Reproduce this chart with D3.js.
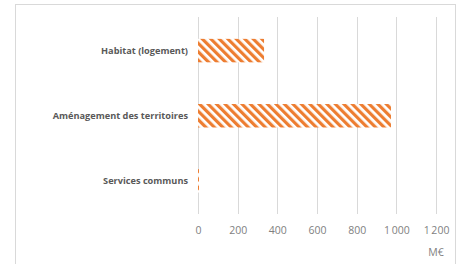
<!doctype html>
<html>
<head>
<meta charset="utf-8"/>
<title>Dépenses par mission</title>
<script src="https://d3js.org/d3.v7.min.js"></script>
<style>
body{margin:0;background:#fff;}
text{font-family:"Open Sans","Liberation Sans",sans-serif;}
</style>
</head>
<body>
<script>
// donnees (M€)
var categories = ["Habitat (logement)", "Aménagement des territoires", "Services communs"];
var valeurs = [333, 973, 5];
var ticks = [0, 200, 400, 600, 800, 1000, 1200];
var unite = "M€";

var W = 459, H = 264;
var svg = d3.select("body").append("svg")
  .attr("width", W).attr("height", H);

// cadre
svg.append("rect")
  .attr("x", 15.5).attr("y", 4.5)
  .attr("width", 440).attr("height", 270)
  .attr("fill", "#fff").attr("stroke", "#d9d9d9");

// motif hachure (diagonale descendante)
var pat = svg.append("defs").append("pattern")
  .attr("id", "hach")
  .attr("patternUnits", "userSpaceOnUse")
  .attr("width", 6).attr("height", 6)
  .attr("patternTransform", "rotate(-45)");
pat.append("rect").attr("width", 6).attr("height", 6).attr("fill", "#fff");
pat.append("rect").attr("width", 3.2).attr("height", 6).attr("fill", "#ed7d31");

var x = d3.scaleLinear().domain([0, 1200]).range([198, 436]);
var y = d3.scaleBand().domain(categories).range([18, 213.5])
  .paddingInner(0.64).paddingOuter(0.32);

// grille
svg.append("g").selectAll("line").data(ticks).join("line")
  .attr("x1", d => Math.round(x(d)) + 0.5).attr("x2", d => Math.round(x(d)) + 0.5)
  .attr("y1", 17).attr("y2", 214)
  .attr("stroke", "#d9d9d9").attr("stroke-width", 1);

// barres
svg.append("g").selectAll("rect").data(valeurs).join("rect")
  .attr("x", x(0))
  .attr("y", (d, i) => y(categories[i]))
  .attr("width", d => x(d) - x(0))
  .attr("height", y.bandwidth())
  .attr("fill", "url(#hach)");

// axe x
var ax = svg.append("g").attr("transform", "translate(0,224)")
  .call(d3.axisBottom(x).tickValues(ticks).tickSize(0)
    .tickFormat(d => d3.format(",")(d).replace(",", "\u2009")));
ax.select(".domain").remove();
ax.selectAll("text")
  .attr("fill", "#7f7f7f").attr("font-size", 10.5).attr("dy", "0.71em");

// axe y
var ay = svg.append("g").attr("transform", "translate(188,0)")
  .call(d3.axisLeft(y).tickSize(0).tickPadding(0));
ay.select(".domain").remove();
ay.selectAll("text")
  .attr("fill", "#595959").attr("font-size", 9.2).attr("font-weight", "bold");

svg.append("text")
  .attr("x", 436).attr("y", 256)
  .attr("text-anchor", "middle")
  .attr("font-size", 10.5).attr("fill", "#7f7f7f")
  .text(unite);
</script>
</body>
</html>
